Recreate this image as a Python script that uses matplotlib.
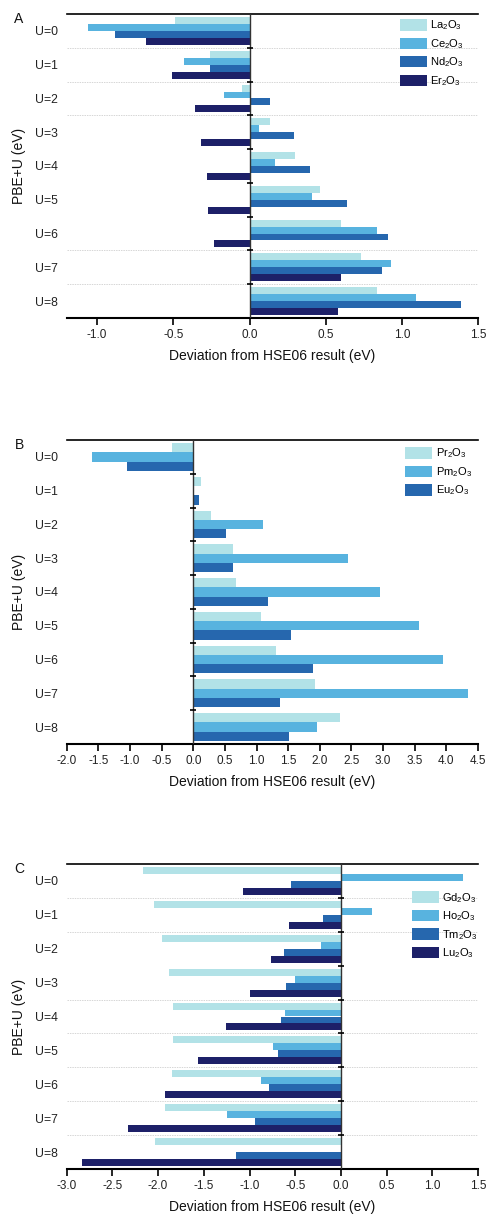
import numpy as np
import matplotlib
matplotlib.use("Agg")
import matplotlib.pyplot as plt
from matplotlib.patches import Patch

plt.rcParams["font.family"] = ["Liberation Sans", "DejaVu Sans"]
plt.rcParams["mathtext.fontset"] = "custom"
plt.rcParams["mathtext.rm"] = "Liberation Sans"
plt.rcParams["mathtext.default"] = "regular"

U_LABELS = [f"U={i}" for i in range(9)]

# panel A
A_NAMES = ["La$_2$O$_3$", "Ce$_2$O$_3$", "Nd$_2$O$_3$", "Er$_2$O$_3$"]
A_LA = [-0.49, -0.26, -0.05, 0.135, 0.30, 0.46, 0.60, 0.73, 0.84]
A_CE = [-1.06, -0.43, -0.17, 0.065, 0.17, 0.41, 0.84, 0.93, 1.09]
A_ND = [-0.88, -0.26, 0.135, 0.29, 0.40, 0.64, 0.91, 0.87, 1.39]
A_ER = [-0.68, -0.51, -0.36, -0.32, -0.28, -0.275, -0.23, 0.60, 0.58]

# panel B
B_NAMES = ["Pr$_2$O$_3$", "Pm$_2$O$_3$", "Eu$_2$O$_3$"]
B_PR = [-0.34, 0.12, 0.28, 0.63, 0.67, 1.07, 1.31, 1.92, 2.32]
B_PM = [-1.60, 0.01, 1.11, 2.44, 2.95, 3.56, 3.95, 4.34, 1.96]
B_EU = [-1.04, 0.095, 0.52, 0.63, 1.18, 1.55, 1.90, 1.37, 1.51]

# panel C
C_NAMES = ["Gd$_2$O$_3$", "Ho$_2$O$_3$", "Tm$_2$O$_3$", "Lu$_2$O$_3$"]
C_GD = [-2.16, -2.04, -1.96, -1.88, -1.84, -1.84, -1.85, -1.92, -2.03]
C_HO = [1.34, 0.34, -0.215, -0.50, -0.61, -0.74, -0.87, -1.25, 0.0]
C_TM = [-0.55, -0.20, -0.62, -0.60, -0.66, -0.69, -0.79, -0.94, -1.15]
C_LU = [-1.07, -0.57, -0.77, -1.00, -1.26, -1.56, -1.92, -2.33, -2.83]

COLORS = ["#b2e2e7", "#58b3df", "#2667ae", "#1d2068"]

TICK_BOUNDS = [0.5, 1.5, 2.5, 3.5, 4.5, 5.5, 6.5, 7.5]
GRID_A = [0.5, 1.5, 2.5, 6.5, 7.5]
GRID_B = []
GRID_C = [0.5, 1.5, 3.5, 4.5, 5.5, 6.5, 7.5]

W, H = 487, 1218
fig = plt.figure(figsize=(W / 100, H / 100), dpi=100)


def add_axes(top_px, bottom_px, left_px=66.7, right_px=478):
    return fig.add_axes([left_px / W, 1 - bottom_px / H,
                         (right_px - left_px) / W, (bottom_px - top_px) / H])


def draw_panel(ax, letter, names, series, xlim, xticks, grid, leg_xy):
    n = len(series)
    total = 0.82
    h = total / n
    y = np.arange(len(U_LABELS))
    for j, vals in enumerate(series):
        off = -total / 2 + h * (j + 0.5)
        ax.barh(y + off, vals, height=h, color=COLORS[j], edgecolor="none",
                label=names[j], zorder=2)
    for g in grid:
        ax.axhline(g, color="#d6d6d6", lw=0.7, ls=(0, (1.5, 1.0)), zorder=1)
    ax.axvline(0, color="#333333", lw=1.0, zorder=3)
    ax.plot(np.zeros(len(TICK_BOUNDS)), TICK_BOUNDS, ls="none", marker="_",
            ms=5, mew=1.2, color="black", zorder=4, clip_on=False)

    ax.set_xlim(*xlim)
    ax.set_ylim(8.5, -0.5)
    ax.set_xticks(xticks)
    ax.set_xticklabels([f"{t:.1f}" for t in xticks])
    ax.set_yticks(y)
    ax.set_yticklabels(U_LABELS)
    ax.tick_params(axis="y", length=0, pad=6, labelsize=8.8, labelcolor="#222222")
    ax.tick_params(axis="x", length=5, width=1.2, pad=3, labelsize=8.5,
                   labelcolor="#222222", direction="out")
    for s in ("left", "right"):
        ax.spines[s].set_visible(False)
    ax.spines["top"].set_linewidth(1.2)
    ax.spines["bottom"].set_linewidth(1.5)
    ax.set_xlabel("Deviation from HSE06 result (eV)", fontsize=10, labelpad=6,
                  color="#111111")
    ax.set_ylabel("PBE+U (eV)", fontsize=10, labelpad=7, color="#111111")
    ax.text(-0.127, 0.982, letter, transform=ax.transAxes, fontsize=10,
            ha="left", va="center", color="#111111")

    handles = [Patch(facecolor=COLORS[j], edgecolor="none") for j in range(n)]
    ax.legend(handles, names, loc="upper left", bbox_to_anchor=leg_xy,
              frameon=False, fontsize=8, handlelength=2.45, handleheight=1.2,
              labelspacing=0.42, handletextpad=0.3, borderpad=0,
              borderaxespad=0)


axA = add_axes(14, 318)
draw_panel(axA, "A", A_NAMES, [A_LA, A_CE, A_ND, A_ER], (-1.2, 1.5),
           [-1.0, -0.5, 0.0, 0.5, 1.0, 1.5], GRID_A, (0.810, 0.985))

axB = add_axes(440, 744)
draw_panel(axB, "B", B_NAMES, [B_PR, B_PM, B_EU], (-2.0, 4.5),
           list(np.arange(-2.0, 4.51, 0.5)), GRID_B, (0.823, 0.978))

axC = add_axes(864, 1169)
draw_panel(axC, "C", C_NAMES, [C_GD, C_HO, C_TM, C_LU], (-3.0, 1.5),
           list(np.arange(-3.0, 1.51, 0.5)), GRID_C, (0.839, 0.912))

fig.savefig("out.png", dpi=100)
